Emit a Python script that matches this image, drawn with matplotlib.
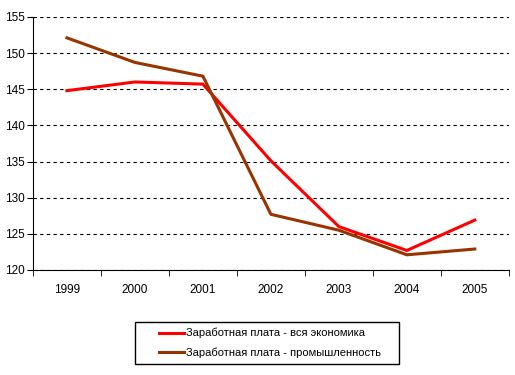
import numpy as np
import matplotlib.pyplot as plt
from matplotlib.patches import Rectangle

# data
years = ['1999', '2000', '2001', '2002', '2003', '2004', '2005']
wage_economy = [144.8, 146.0, 145.7, 135.1, 126.0, 122.7, 126.9]
wage_industry = [152.1, 148.7, 146.8, 127.7, 125.5, 122.1, 122.9]
label_economy = 'Заработная плата - вся экономика'
label_industry = 'Заработная плата - промышленность'

plt.rcParams['font.family'] = ['Liberation Sans', 'DejaVu Sans']
plt.rcParams['font.size'] = 8.5

fig = plt.figure(figsize=(5.15, 3.75), dpi=100)
ax = fig.add_axes([0.064, 0.28, 0.924, 0.675])

x = np.arange(len(years))
ax.plot(x, wage_economy, color='#FF0000', lw=2.2, label=label_economy)
ax.plot(x, wage_industry, color='#993300', lw=2.2, label=label_industry)

ax.set_xlim(-0.5, len(years) - 0.5)
ax.set_ylim(120, 155)
ax.set_yticks(np.arange(120, 156, 5))
ax.set_xticks(x)
ax.set_xticklabels(years)
ax.set_xticks(np.arange(-0.5, len(years), 1), minor=True)
ax.tick_params(axis='x', which='major', length=0, pad=10)
ax.tick_params(axis='x', which='minor', length=4, direction='out')
ax.tick_params(axis='y', length=4, direction='out', pad=2)

ax.yaxis.grid(True, color='black', linestyle=(0, (3, 3)), lw=0.8)
ax.set_axisbelow(True)
for s in ['top', 'right']:
    ax.spines[s].set_visible(False)

# legend box drawn separately so its padding matches the original
fig.patches.append(Rectangle((135 / 515, 1 - 364 / 375), 264 / 515, 42 / 375,
                             transform=fig.transFigure, fill=False,
                             edgecolor='black', lw=1))
leg = fig.legend(loc='center', bbox_to_anchor=(0.525, 0.085), ncol=1,
                 frameon=False, fontsize=8, handlelength=2.25,
                 handletextpad=0.2, borderpad=0, borderaxespad=0,
                 labelspacing=0.85)

fig.savefig('out.png', dpi=100)
